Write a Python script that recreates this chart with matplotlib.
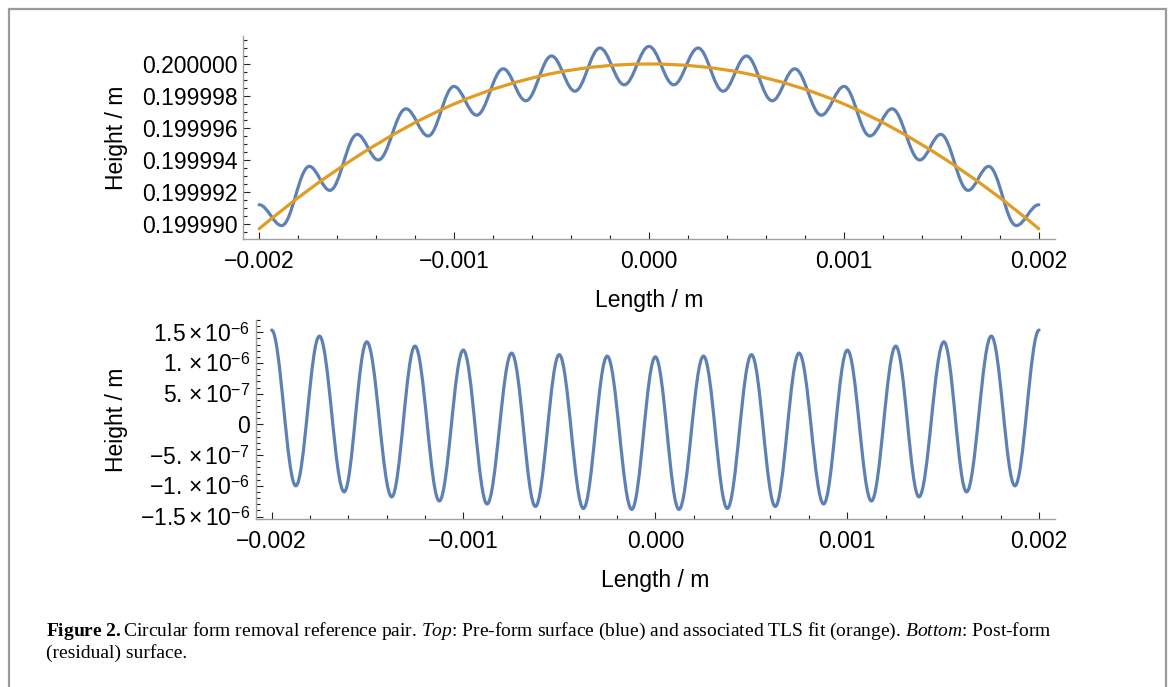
import matplotlib
matplotlib.use('Agg')
import matplotlib.pyplot as plt
from matplotlib.path import Path
from matplotlib.patches import PathPatch, Rectangle
from matplotlib.ticker import FixedLocator, MultipleLocator, FixedFormatter

plt.rcParams['font.family'] = ['Liberation Sans', 'DejaVu Sans']
plt.rcParams['mathtext.fontset'] = 'custom'
plt.rcParams['mathtext.rm'] = 'Liberation Sans'
plt.rcParams['mathtext.bf'] = 'Liberation Serif:bold'
plt.rcParams['mathtext.it'] = 'Liberation Serif:italic'

# top panel: local extrema of the pre-form surface
surface_x = [-0.002, -0.001884, -0.001743, -0.001637, -0.001497, -0.001389, -0.001247, -0.001133,
             -0.001001, -0.000884, -0.000748, -0.000632, -0.000500, -0.000380, -0.000252, -0.000127,
             0.0, 0.000127, 0.000252, 0.000380, 0.000500, 0.000632, 0.000748, 0.000884,
             0.001001, 0.001133, 0.001247, 0.001389, 0.001497, 0.001637, 0.001743, 0.001884, 0.002]
surface_y = [0.1999912, 0.1999899, 0.1999936, 0.1999921, 0.1999956, 0.1999940, 0.1999972, 0.1999955,
             0.1999986, 0.1999968, 0.1999997, 0.1999977, 0.2000005, 0.1999983, 0.2000010, 0.1999987,
             0.2000011, 0.1999987, 0.2000010, 0.1999983, 0.2000005, 0.1999977, 0.1999997, 0.1999968,
             0.1999986, 0.1999955, 0.1999972, 0.1999940, 0.1999956, 0.1999921, 0.1999936, 0.1999899, 0.1999912]

# TLS circle fit samples
fit_x = [-0.002, -0.0015, -0.001, -0.0005, 0.0, 0.0005, 0.001, 0.0015, 0.002]
fit_y = [0.1999897, 0.1999942, 0.1999975, 0.1999994, 0.2000000, 0.1999994, 0.1999975, 0.1999942, 0.1999897]

# bottom panel: local extrema of the residual surface
resid_x = [-0.002, -0.001874, -0.001751, -0.001622, -0.001504, -0.001374, -0.001253, -0.001126,
           -0.001001, -0.000877, -0.000749, -0.000625, -0.000501, -0.000375, -0.000251, -0.000123,
           0.0, 0.000123, 0.000251, 0.000375, 0.000501, 0.000625, 0.000749, 0.000877,
           0.001001, 0.001126, 0.001253, 0.001374, 0.001504, 0.001622, 0.001751, 0.001874, 0.002]
resid_y = [1.536e-6, -1.000e-6, 1.438e-6, -1.098e-6, 1.345e-6, -1.179e-6, 1.275e-6, -1.247e-6,
           1.210e-6, -1.295e-6, 1.161e-6, -1.336e-6, 1.135e-6, -1.368e-6, 1.112e-6, -1.384e-6,
           1.100e-6, -1.384e-6, 1.112e-6, -1.368e-6, 1.135e-6, -1.336e-6, 1.161e-6, -1.295e-6,
           1.210e-6, -1.247e-6, 1.275e-6, -1.179e-6, 1.345e-6, -1.098e-6, 1.438e-6, -1.000e-6, 1.536e-6]

x_ticks = [-0.002, -0.001, 0.0, 0.001, 0.002]
x_labels = ['\u22120.002', '\u22120.001', '0.000', '0.001', '0.002']
top_yticks = [0.199990, 0.199992, 0.199994, 0.199996, 0.199998, 0.200000]
top_ylabels = ['0.199990', '0.199992', '0.199994', '0.199996', '0.199998', '0.200000']
bot_yticks = [-1.5e-6, -1e-6, -5e-7, 0.0, 5e-7, 1e-6, 1.5e-6]
bot_ylabels = [r'$-1.5\times10^{-6}$', r'$-1.\times10^{-6}$', r'$-5.\times10^{-7}$', '0',
               r'$5.\times10^{-7}$', r'$1.\times10^{-6}$', r'$1.5\times10^{-6}$']

BLUE = '#5e81b5'
ORANGE = '#e19c24'
AXIS_GRAY = '#a0a0a0'
W, H = 1171, 687


def extrema_path(xs, ys):
    # half-cosine like cubic segments between successive extrema
    verts = [(xs[0], ys[0])]
    codes = [Path.MOVETO]
    for i in range(1, len(xs)):
        a = 0.3634 * (xs[i] - xs[i - 1])
        verts += [(xs[i - 1] + a, ys[i - 1]), (xs[i] - a, ys[i]), (xs[i], ys[i])]
        codes += [Path.CURVE4] * 3
    return Path(verts, codes)


def smooth_path(xs, ys):
    n = len(xs)
    slopes = []
    for i in range(n):
        if i == 0:
            h = xs[1] - xs[0]
            slopes.append((-3 * ys[0] + 4 * ys[1] - ys[2]) / (2 * h))
        elif i == n - 1:
            h = xs[-1] - xs[-2]
            slopes.append((3 * ys[-1] - 4 * ys[-2] + ys[-3]) / (2 * h))
        else:
            slopes.append((ys[i + 1] - ys[i - 1]) / (xs[i + 1] - xs[i - 1]))
    verts = [(xs[0], ys[0])]
    codes = [Path.MOVETO]
    for i in range(1, n):
        d = (xs[i] - xs[i - 1]) / 3
        verts += [(xs[i - 1] + d, ys[i - 1] + slopes[i - 1] * d),
                  (xs[i] - d, ys[i] - slopes[i] * d), (xs[i], ys[i])]
        codes += [Path.CURVE4] * 3
    return Path(verts, codes)


def style_axes(ax):
    for side in ('top', 'right'):
        ax.spines[side].set_visible(False)
    for side in ('left', 'bottom'):
        ax.spines[side].set_color(AXIS_GRAY)
        ax.spines[side].set_linewidth(1.0)
    ax.tick_params(which='both', direction='in', color='#222222', width=0.8, labelsize=16.5)
    ax.tick_params(which='major', length=4.7)
    ax.tick_params(which='minor', length=2.9)
    ax.tick_params(axis='x', which='major', pad=8)
    ax.tick_params(axis='y', which='major', pad=4)
    ax.set_xlim(-0.002083, 0.002083)
    ax.xaxis.set_major_locator(FixedLocator(x_ticks))
    ax.xaxis.set_major_formatter(FixedFormatter(x_labels))
    ax.xaxis.set_minor_locator(MultipleLocator(0.0002))


fig = plt.figure(figsize=(W / 100, H / 100), dpi=100)

ax1 = fig.add_axes([243 / W, 1 - 239 / H, (1055 - 243) / W, (239 - 36) / H])
style_axes(ax1)
ax1.add_patch(PathPatch(extrema_path(surface_x, surface_y), facecolor='none', edgecolor=BLUE,
                        lw=2.3, capstyle='round', joinstyle='round'))
ax1.add_patch(PathPatch(smooth_path(fit_x, fit_y), facecolor='none', edgecolor=ORANGE,
                        lw=2.3, capstyle='round', joinstyle='round'))
ax1.set_ylim(0.19998906, 0.20000175)
ax1.yaxis.set_major_locator(FixedLocator(top_yticks))
ax1.yaxis.set_major_formatter(FixedFormatter(top_ylabels))
ax1.yaxis.set_minor_locator(MultipleLocator(5e-7))

ax2 = fig.add_axes([255.7 / W, 1 - 519 / H, (1055 - 255.7) / W, (519 - 320) / H])
style_axes(ax2)
ax2.add_patch(PathPatch(extrema_path(resid_x, resid_y), facecolor='none', edgecolor=BLUE,
                        lw=2.3, capstyle='round', joinstyle='round'))
ax2.set_ylim(-1.54e-6, 1.70e-6)
ax2.yaxis.set_major_locator(FixedLocator(bot_yticks))
ax2.yaxis.set_major_formatter(FixedFormatter(bot_ylabels))
ax2.yaxis.set_minor_locator(MultipleLocator(1e-7))

fig.text(116 / W, 1 - 137.5 / H, 'Height / m', rotation=90, ha='center', va='center', size=16.5)
fig.text(116 / W, 1 - 419.5 / H, 'Height / m', rotation=90, ha='center', va='center', size=16.5)
fig.text(649 / W, 1 - 300 / H, 'Length / m', ha='center', va='center', size=16.5)
fig.text(655 / W, 1 - 580 / H, 'Length / m', ha='center', va='center', size=16.5)

cap1 = (r'$\mathbf{Figure\ 2.}$Circular form removal reference pair. $\mathit{Top}$: Pre-form surface '
        r'(blue) and associated TLS fit (orange). $\mathit{Bottom}$: Post-form')
cap2 = '(residual) surface.'
fig.text(46 / W, 1 - 636 / H, cap1, family='Liberation Serif', size=14, va='baseline', ha='left')
fig.text(46 / W, 1 - 658 / H, cap2, family='Liberation Serif', size=14, va='baseline', ha='left')

fig.add_artist(Rectangle((9 / W, -0.05), (1166 - 9) / W, 1.05 - 9 / H, transform=fig.transFigure,
                         fill=False, edgecolor='#9a9a9a', lw=1.6, clip_on=False))

fig.savefig('out.png', dpi=100)
plt.close(fig)
